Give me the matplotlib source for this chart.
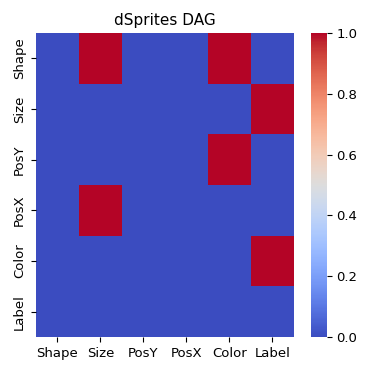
import matplotlib
matplotlib.use("Agg")
import matplotlib.pyplot as plt
import numpy as np
import seaborn as sns

plt.rcParams.update({'font.size': 9.5})

labels = ['Shape', 'Size', 'PosY', 'PosX', 'Color', 'Label']
# adjacency: row -> column
dag = np.array([
    [0, 1, 0, 0, 1, 0],
    [0, 0, 0, 0, 0, 1],
    [0, 0, 0, 0, 1, 0],
    [0, 1, 0, 0, 0, 0],
    [0, 0, 0, 0, 0, 1],
    [0, 0, 0, 0, 0, 0],
])

fig = plt.figure(figsize=(3.74, 3.74), dpi=100)
ax = fig.add_axes([0.096, 0.099, 0.69, 0.813])
cax = fig.add_axes([0.831, 0.099, 0.043, 0.813])

sns.heatmap(dag, cmap='coolwarm', vmin=0, vmax=1, ax=ax, cbar_ax=cax,
            xticklabels=labels, yticklabels=labels)
ax.set_title('dSprites DAG', fontsize=11)
ax.tick_params(axis='x', rotation=0)
ax.tick_params(axis='y', rotation=90)
for t in ax.get_yticklabels():
    t.set_va('center')

plt.savefig('out.png', dpi=100)
